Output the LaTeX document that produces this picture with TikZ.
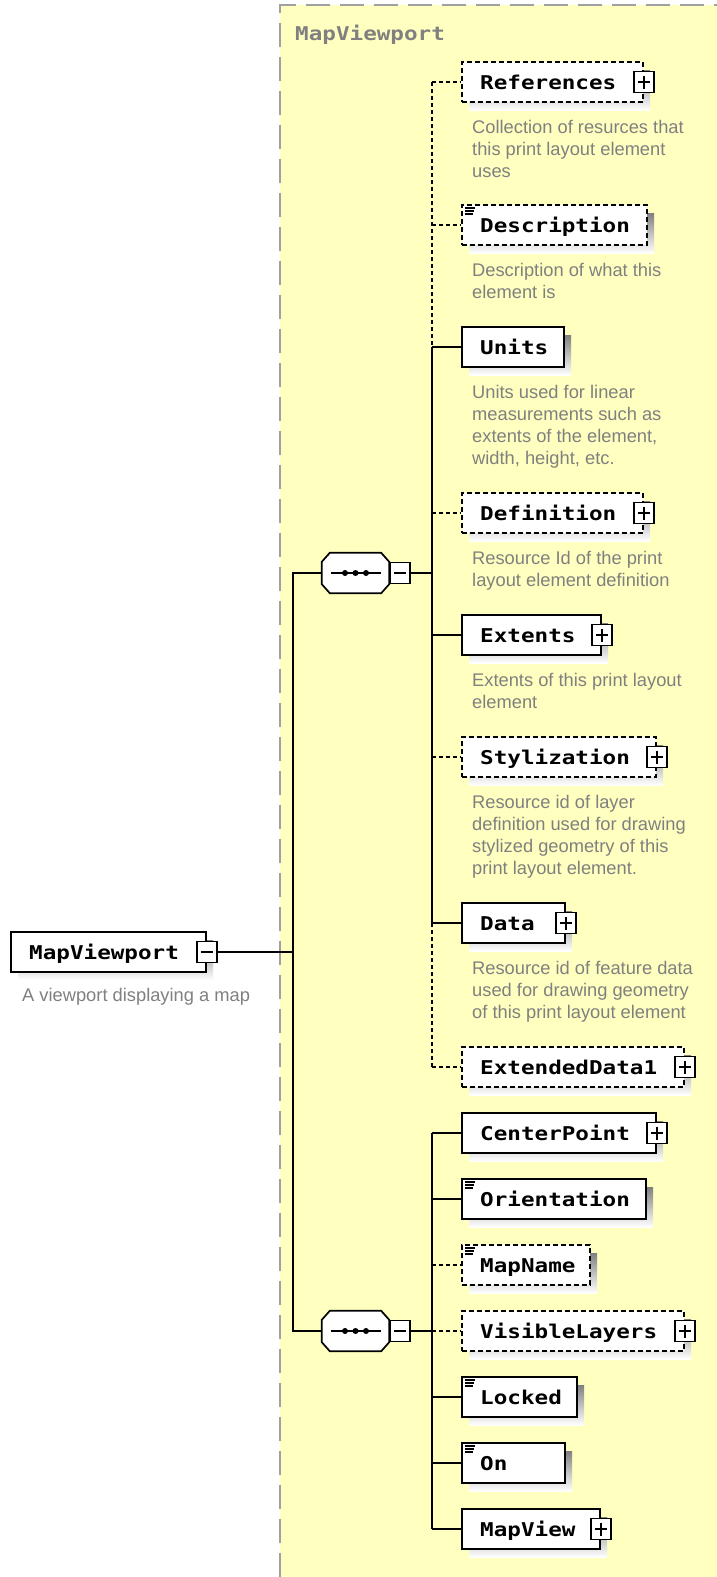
\documentclass[tikz,border=0pt]{standalone}
\usepackage{fontspec}
\usetikzlibrary{calc}
\newfontfamily\labfont{DejaVu Sans Mono}[FakeStretch=1.19]
\newfontfamily\descfont{Liberation Sans}
\definecolor{panel}{HTML}{FFFFC0}
\definecolor{shade}{HTML}{C0C0C0}
\definecolor{notegray}{HTML}{808080}
\definecolor{framegray}{HTML}{A0A0A0}

\tikzset{
  wire/.style={line width=1.7pt, black},
  optwire/.style={wire, dash pattern=on 4pt off 3pt},
  reqbox/.style={draw, line width=1.8pt, fill=white, rectangle, minimum height=40pt, inner sep=0pt, anchor=west},
  optbox/.style={reqbox, dash pattern=on 5pt off 3pt},
  lab/.style={anchor=west, inner sep=0pt, text height=14pt, text depth=0pt,
    font=\labfont\bfseries\fontsize{19}{22}\selectfont},
  notetext/.style={anchor=base west, inner sep=0pt, text=notegray,
    font=\descfont\fontsize{18.3}{22}\selectfont},
  pmbox/.style={draw, line width=1.5pt, fill=white, rectangle, minimum width=20pt, minimum height=21pt, inner sep=0pt},
  plussign/.style={pmbox, path picture={
    \draw[line width=1.5pt] ($(path picture bounding box.west)+(4,0)$) -- ($(path picture bounding box.east)+(-4,0)$)
      ($(path picture bounding box.north)+(0,4)$) -- ($(path picture bounding box.south)+(0,-4)$);}},
  minussign/.style={pmbox, path picture={
    \draw[line width=1.5pt] ($(path picture bounding box.west)+(4,0)$) -- ($(path picture bounding box.east)+(-4,0)$);}},
  seqanchor/.style={rectangle, minimum width=67pt, minimum height=40pt, inner sep=0pt},
}

% element box with drop shadow and bold label
\newcommand\elem[5]{%
  \fill[shade] (469,#3-12) rectangle (#4+8,#3+28);
  \node[#2, minimum width=#4-461] (#1) at (461,#3) {};
  \node[lab] (#1-t) at (480,#3) {#5};
}
% expand marker on the right edge of an element
\newcommand\expander[1]{\node[plussign] (#1-p) at (#1.east) {};}
% simple-type marker in the top-left corner
\newcommand\simplemark[1]{%
  \draw[line width=1.3pt] ($(#1.north west)+(4,4)$) -- +(10,0)
    ($(#1.north west)+(4,7)$) -- +(9,0)
    ($(#1.north west)+(4,10)$) -- +(8,0);}
% annotation block below an element
\newcommand\lines[1]{\begin{tabular}[t]{@{}l@{}}#1\end{tabular}}
\newcommand\annot[3]{\node[notetext] (#1) at (472,#2+51) {\lines{#3}};}
% sequence compositor (octagon) outline
\newcommand\octo[2]{%
  \path[#2] ($(#1.north west)+(8,0)$) -- ($(#1.north east)+(-8,0)$) -- ($(#1.north east)+(0,9)$)
    -- ($(#1.south east)+(0,-9)$) -- ($(#1.south east)+(-8,0)$) -- ($(#1.south west)+(8,0)$)
    -- ($(#1.south west)+(0,-9)$) -- ($(#1.north west)+(0,9)$) -- cycle;}
\newcommand\sequence[2]{%
  \node[seqanchor] (#1) at (355.5,#2) {};
  \octo{#1}{fill=shade, shift={(8,8)}}
  \octo{#1}{draw, fill=white, line width=1.7pt}
  \draw[line width=1.5pt] ($(#1.center)+(-25,0)$) -- ($(#1.center)+(25,0)$);
  \foreach \dx in {-10.5,0,10.5} {\fill ($(#1.center)+(\dx,0)$) circle[radius=3pt];}
  \node[minussign, anchor=west] (#1-m) at (#1.east) {};
}

\begin{document}
\begin{tikzpicture}[x=1pt, y=-1pt]
\useasboundingbox (0,0) rectangle (717,1577);
\fill[white] (0,0) rectangle (717,1577);

% content panel of the complex type
\fill[panel] (280,5) rectangle (717,1577);
\draw[framegray, line width=2pt, dash pattern=on 24pt off 10pt] (280,1577) -- (280,5) -- (717,5);
\node[lab, text=notegray, anchor=base west] (title) at (295,40) {MapViewport};

% root element
\fill[shade] (18,940) rectangle (213,980);
\node[reqbox, minimum width=195] (root) at (10,952) {};
\node[lab] (root-t) at (29,952) {MapViewport};
\node[minussign] (root-m) at (root.east) {};
\node[notetext] (root-n) at (22,1001) {A viewport displaying a map};

% compositors
\sequence{seqA}{573}
\sequence{seqB}{1331}

% first sequence children
\elem{refs}{optbox}{82}{642}{References}\expander{refs}
\annot{refs-n}{82}{Collection of resurces that\\this print layout element\\uses}
\elem{desc}{optbox}{225}{646}{Description}\simplemark{desc}
\annot{desc-n}{225}{Description of what this\\element is}
\elem{units}{reqbox}{347}{563}{Units}
\annot{units-n}{347}{Units used for linear\\measurements such as\\extents of the element,\\width, height, etc.}
\elem{defn}{optbox}{513}{642}{Definition}\expander{defn}
\annot{defn-n}{513}{Resource Id of the print\\layout element definition}
\elem{extents}{reqbox}{635}{600}{Extents}\expander{extents}
\annot{extents-n}{635}{Extents of this print layout\\element}
\elem{styl}{optbox}{757}{655}{Stylization}\expander{styl}
\annot{styl-n}{757}{Resource id of layer\\definition used for drawing\\stylized geometry of this\\print layout element.}
\elem{data}{reqbox}{923}{564}{Data}\expander{data}
\annot{data-n}{923}{Resource id of feature data\\used for drawing geometry\\of this print layout element}
\elem{extdata}{optbox}{1067}{683}{ExtendedData1}\expander{extdata}

% second sequence children
\elem{center}{reqbox}{1133}{655}{CenterPoint}\expander{center}
\elem{orient}{reqbox}{1199}{645}{Orientation}\simplemark{orient}
\elem{mapname}{optbox}{1265}{589}{MapName}\simplemark{mapname}
\elem{vislayers}{optbox}{1331}{683}{VisibleLayers}\expander{vislayers}
\elem{locked}{reqbox}{1397}{576}{Locked}\simplemark{locked}
\elem{on}{reqbox}{1463}{564}{On}\simplemark{on}
\elem{mapview}{reqbox}{1529}{599}{MapView}\expander{mapview}

% root to compositors
\coordinate (trunk) at (293,952);
\draw[wire] (root-m.east) -- (trunk);
\draw[wire] (seqA.west) -| (trunk) |- (seqB.west);

% first sequence bus
\coordinate (busA) at (432,573);
\draw[wire] (seqA-m.east) -- (busA);
\draw[optwire] (busA |- refs.west) -- (busA |- units.west);
\draw[wire] (busA |- units.west) -- (busA |- data.west);
\draw[optwire] (busA |- data.west) -- (busA |- extdata.west);
\draw[optwire] (busA |- refs.west) -- (refs.west);
\draw[optwire] (busA |- desc.west) -- (desc.west);
\draw[wire] (busA |- units.west) -- (units.west);
\draw[optwire] (busA |- defn.west) -- (defn.west);
\draw[wire] (busA |- extents.west) -- (extents.west);
\draw[optwire] (busA |- styl.west) -- (styl.west);
\draw[wire] (busA |- data.west) -- (data.west);
\draw[optwire] (busA |- extdata.west) -- (extdata.west);

% second sequence bus
\coordinate (busB) at (432,1331);
\draw[wire] (seqB-m.east) -- (busB);
\draw[wire] (busB |- center.west) -- (busB |- mapview.west);
\draw[wire] (busB |- center.west) -- (center.west);
\draw[wire] (busB |- orient.west) -- (orient.west);
\draw[optwire] (busB |- mapname.west) -- (mapname.west);
\draw[optwire] (busB |- vislayers.west) -- (vislayers.west);
\draw[wire] (busB |- locked.west) -- (locked.west);
\draw[wire] (busB |- on.west) -- (on.west);
\draw[wire] (busB |- mapview.west) -- (mapview.west);
\end{tikzpicture}
\end{document}
